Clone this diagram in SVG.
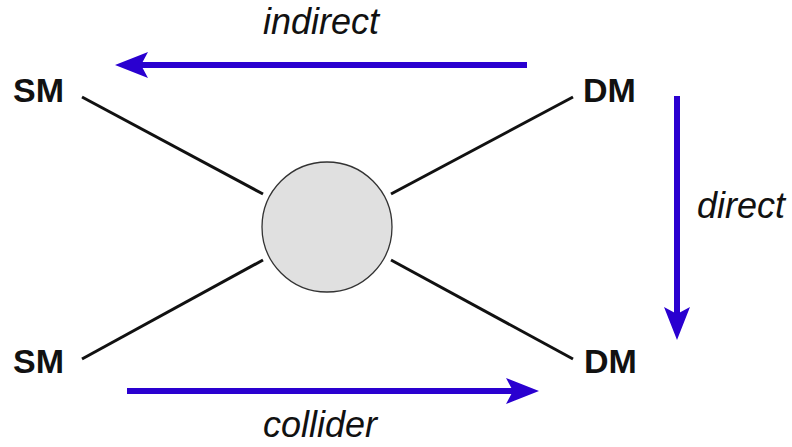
<svg xmlns="http://www.w3.org/2000/svg" width="792" height="447" viewBox="0 0 792 447">
<defs>
<style>
.lbl{font-family:"Liberation Sans",Arial,sans-serif;font-weight:bold;font-size:34px;fill:#111}
.it{font-family:"Liberation Sans",Arial,sans-serif;font-style:italic;font-size:36px;fill:#111}
.leg{stroke:#111;stroke-width:3;fill:none}
.arr{stroke:#2a00d0;stroke-width:6;fill:none}
</style>
<marker id="ah" viewBox="-8 -14 36 28" refX="0" refY="0" markerUnits="userSpaceOnUse" markerWidth="36" markerHeight="28" orient="auto">
<path d="M-7,-13 L26,0 L-7,13 L0,0 Z" fill="#2a00d0"/>
</marker>
</defs>
<rect width="792" height="447" fill="#fff"/>
<g id="connectors">
<line class="leg" x1="82" y1="97" x2="263" y2="194"/>
<line class="leg" x1="573" y1="97" x2="391" y2="194"/>
<line class="leg" x1="82" y1="359" x2="263" y2="260"/>
<line class="leg" x1="573" y1="359" x2="391" y2="260"/>
<line class="arr" x1="527" y1="65" x2="141" y2="65" marker-end="url(#ah)"/>
<line class="arr" x1="677" y1="96" x2="677" y2="314" marker-end="url(#ah)"/>
<line class="arr" x1="127" y1="391" x2="513" y2="391" marker-end="url(#ah)"/>
</g>
<g id="vertex">
<circle cx="327" cy="227" r="65" fill="#e0e0e0" stroke="#333" stroke-width="1.3"/>
</g>
<g id="sm-top"><text class="lbl" x="13" y="102">SM</text></g>
<g id="dm-top"><text class="lbl" x="583" y="102">DM</text></g>
<g id="sm-bottom"><text class="lbl" x="13" y="373">SM</text></g>
<g id="dm-bottom"><text class="lbl" x="584" y="373">DM</text></g>
<g id="label-indirect"><text class="it" x="263" y="34">indirect</text></g>
<g id="label-direct"><text class="it" x="697" y="218">direct</text></g>
<g id="label-collider"><text class="it" x="263" y="437">collider</text></g>
</svg>
